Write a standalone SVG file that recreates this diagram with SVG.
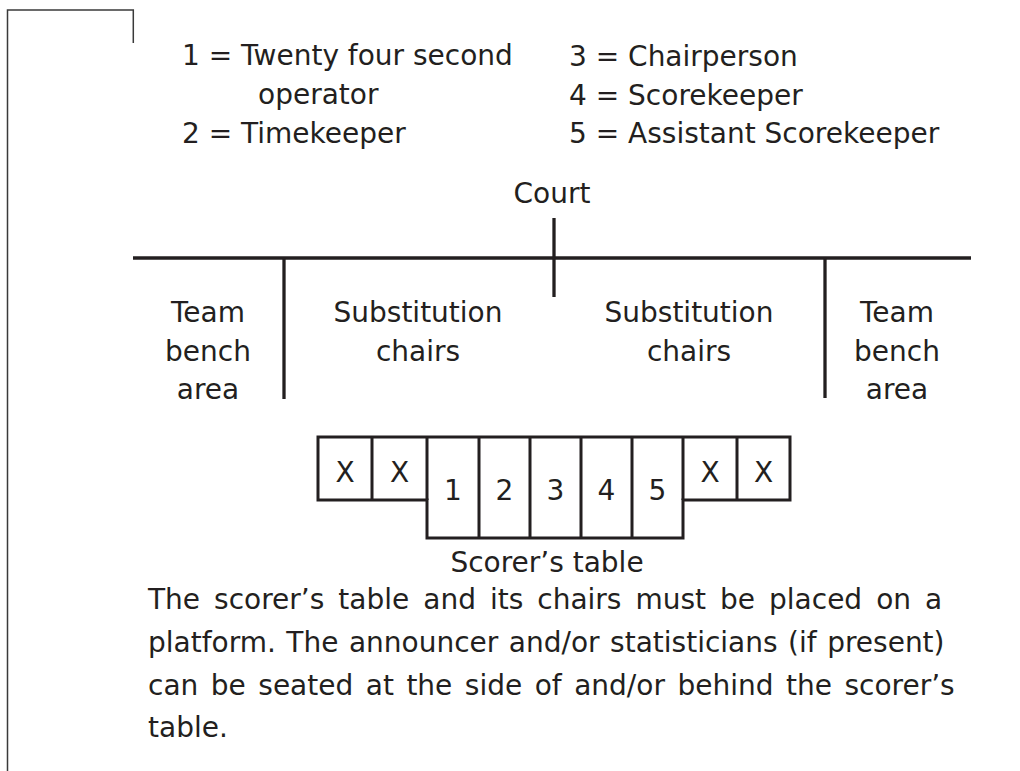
<svg xmlns="http://www.w3.org/2000/svg" width="1020" height="771" viewBox="0 0 1020 771">
<style>
text{font-family:"DejaVu Sans","Liberation Sans",sans-serif;font-size:28px;fill:#231f20}
.c{text-anchor:middle}
.frame{fill:none;stroke:#3a3a3a;stroke-width:1.5}
.thick{fill:none;stroke:#231f20;stroke-width:3.3}
.tbl{fill:none;stroke:#231f20;stroke-width:3}
</style>
<rect width="1020" height="771" fill="#ffffff"/>
<g id="frame">
<path class="frame" d="M7.5,771 V10 H133.3 V43"/>
</g>
<g id="legend">
<text x="182" y="65">1 = Twenty four second</text>
<text x="258" y="104">operator</text>
<text x="182" y="143">2 = Timekeeper</text>
<text x="569" y="66">3 = Chairperson</text>
<text x="569" y="105">4 = Scorekeeper</text>
<text x="569" y="143">5 = Assistant Scorekeeper</text>
</g>
<g id="connectors">
<path class="thick" d="M133,258 H971"/>
<path class="thick" d="M554,218 V297"/>
<path class="thick" d="M284,258 V399"/>
<path class="thick" d="M825,258 V398"/>
</g>
<g id="court"><text class="c" x="552" y="203">Court</text></g>
<g id="team-left">
<text class="c" x="208" y="322">Team</text>
<text class="c" x="208" y="361">bench</text>
<text class="c" x="208" y="399">area</text>
</g>
<g id="subs-left">
<text class="c" x="418" y="322">Substitution</text>
<text class="c" x="418" y="361">chairs</text>
</g>
<g id="subs-right">
<text class="c" x="689" y="322">Substitution</text>
<text class="c" x="689" y="361">chairs</text>
</g>
<g id="team-right">
<text class="c" x="897" y="322">Team</text>
<text class="c" x="897" y="361">bench</text>
<text class="c" x="897" y="399">area</text>
</g>
<g id="scorers-table">
<path class="tbl" d="M318,437 H790 V500 H683 V538 H427 V500 H318 Z"/>
<path class="tbl" d="M372,437 V500 M427,437 V500 M479,437 V538 M530,437 V538 M581,437 V538 M632,437 V538 M683,437 V500 M737,437 V500"/>
<text class="c" x="345" y="482">X</text>
<text class="c" x="399.5" y="482">X</text>
<text class="c" x="453" y="500">1</text>
<text class="c" x="504.5" y="500">2</text>
<text class="c" x="555.5" y="500">3</text>
<text class="c" x="606.5" y="500">4</text>
<text class="c" x="657.5" y="500">5</text>
<text class="c" x="710" y="482">X</text>
<text class="c" x="763.5" y="482">X</text>
<text class="c" x="547" y="572">Scorer’s table</text>
</g>
<g id="note">
<text x="148" y="609" word-spacing="5.1">The scorer’s table and its chairs must be placed on a</text>
<text x="148" y="652" word-spacing="1.6">platform. The announcer and/or statisticians (if present)</text>
<text x="148" y="695" word-spacing="3.6">can be seated at the side of and/or behind the scorer’s</text>
<text x="148" y="737">table.</text>
</g>
</svg>
